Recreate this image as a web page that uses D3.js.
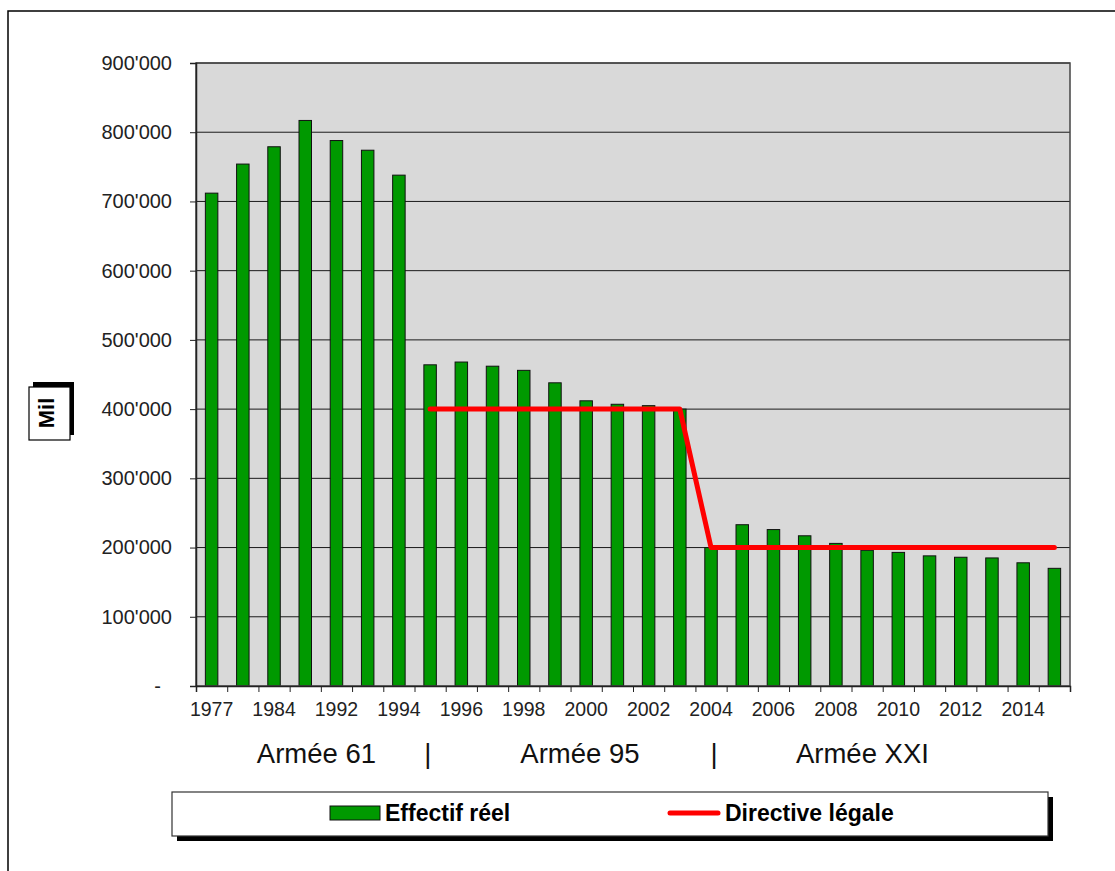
<!DOCTYPE html>
<html>
<head>
<meta charset="utf-8">
<script src="https://cdn.jsdelivr.net/npm/d3@7"></script>
<style>
  body { margin: 0; background: #fff; }
  text { font-family: "Liberation Sans", Arial, sans-serif; }
</style>
</head>
<body>
<svg id="chart" width="1115" height="871"></svg>
<script>
// categories (three early years are unlabeled in the source, guessed)
const years = ['1977', '1980', '1984', '1988', '1992', '1993', '1994', '1995', '1996', '1997',
  '1998', '1999', '2000', '2001', '2002', '2003', '2004', '2005', '2006', '2007',
  '2008', '2009', '2010', '2011', '2012', '2013', '2014', '2015'];
const shownYears = ['1977', '1984', '1992', '1994', '1996', '1998', '2000', '2002', '2004',
  '2006', '2008', '2010', '2012', '2014'];

// Effectif réel
const effectif = [712000, 754000, 779000, 817000, 788000, 774000, 738000, 464000, 468000, 462000,
  456000, 438000, 412000, 407000, 405000, 400000, 200000, 233000, 226000, 217000,
  206000, 196000, 193000, 188000, 186000, 185000, 178000, 170000];

// Directive légale (null = no directive)
const directive = [null, null, null, null, null, null, null, 400000, 400000, 400000,
  400000, 400000, 400000, 400000, 400000, 400000, 200000, 200000, 200000, 200000,
  200000, 200000, 200000, 200000, 200000, 200000, 200000, 200000];

const yTicks = [0, 100000, 200000, 300000, 400000, 500000, 600000, 700000, 800000, 900000];
const armies = ['Armée 61', '|', 'Armée 95', '|', 'Armée XXI'];
const legendLabels = ['Effectif réel', 'Directive légale'];

const plotLeft = 196, plotRight = 1070, plotTop = 63, plotBottom = 686;
const armyPos = [3.86, 7.43, 12.3, 16.6, 21.35]; // in category units

const svg = d3.select('#chart');

// outer frame (top and left edges only)
svg.append('path').attr('d', 'M8,871V11H1115').attr('fill', 'none').attr('stroke', '#000').attr('stroke-width', 1.5);

const x = d3.scaleBand().domain(years).range([plotLeft, plotRight]).paddingInner(0.6).paddingOuter(0.3);
const xIdx = d3.scaleLinear().domain([0, years.length]).range([plotLeft, plotRight]);
const y = d3.scaleLinear().domain([0, 900000]).range([plotBottom, plotTop]);

// plot background
svg.append('rect').attr('x', plotLeft).attr('y', plotTop).attr('width', plotRight - plotLeft).attr('height', plotBottom - plotTop)
  .attr('fill', '#d9d9d9');

// gridlines
svg.append('g').selectAll('line').data(yTicks.slice(1)).enter().append('line')
  .attr('x1', plotLeft).attr('x2', plotRight).attr('y1', d => y(d)).attr('y2', d => y(d))
  .attr('stroke', '#1a1a1a').attr('stroke-width', 1);

// bars
svg.append('g').selectAll('rect').data(effectif).enter().append('rect')
  .attr('x', (d, i) => x(years[i])).attr('width', x.bandwidth())
  .attr('y', d => y(d)).attr('height', d => plotBottom - y(d))
  .attr('fill', '#009900').attr('stroke', '#111').attr('stroke-width', 1);

// plot border
svg.append('rect').attr('x', plotLeft).attr('y', plotTop).attr('width', plotRight - plotLeft).attr('height', plotBottom - plotTop)
  .attr('fill', 'none').attr('stroke', '#444').attr('stroke-width', 1.5);

// directive line
const line = d3.line().defined(d => d[1] != null)
  .x(d => x(d[0]) + x.bandwidth() / 2).y(d => y(d[1]));
svg.append('path').datum(years.map((yr, i) => [yr, directive[i]]))
  .attr('d', line).attr('fill', 'none').attr('stroke', '#ff0000').attr('stroke-width', 5)
  .attr('stroke-linejoin', 'round').attr('stroke-linecap', 'round');

// y axis
const yAxis = d3.axisLeft(y).tickValues(yTicks).tickSize(6).tickPadding(18)
  .tickFormat(d => d === 0 ? '-' : d3.format(',')(d).replace(/,/g, '\''));
const yAxisGroup = svg.append('g').attr('transform', `translate(${plotLeft},0)`).call(yAxis);
yAxisGroup.select('.domain').attr('stroke', '#222').attr('stroke-width', 1.5);
yAxisGroup.selectAll('.tick line').attr('stroke', '#222');
yAxisGroup.selectAll('.tick text').attr('font-size', 20).attr('fill', '#222')
  .attr('font-family', '"Liberation Sans", Arial, sans-serif')
  .attr('dx', d => d === 0 ? -11 : 0);

// x axis: tick marks at category boundaries, labels at centers
const xTickAxis = d3.axisBottom(xIdx).ticks(years.length).tickSize(6).tickFormat('');
const xTickGroup = svg.append('g').attr('transform', `translate(0,${plotBottom})`).call(xTickAxis);
xTickGroup.select('.domain').attr('stroke', '#222').attr('stroke-width', 1.5);
xTickGroup.selectAll('.tick line').attr('stroke', '#222');

const xAxis = d3.axisBottom(x).tickValues(shownYears).tickSize(0).tickPadding(16);
const xAxisGroup = svg.append('g').attr('transform', `translate(0,${plotBottom})`).call(xAxis);
xAxisGroup.select('.domain').remove();
xAxisGroup.selectAll('.tick text').attr('font-size', 19.5).attr('fill', '#222')
  .attr('font-family', '"Liberation Sans", Arial, sans-serif');

// army periods
svg.append('g').selectAll('text').data(armies).enter().append('text')
  .attr('x', (d, i) => xIdx(armyPos[i])).attr('y', 763)
  .attr('text-anchor', 'middle').attr('font-size', 27.5).attr('fill', '#111')
  .text(d => d);

// "Mil" badge
svg.append('rect').attr('x', 33).attr('y', 382).attr('width', 41).attr('height', 53).attr('fill', '#000');
svg.append('rect').attr('x', 29).attr('y', 387).attr('width', 41).attr('height', 53)
  .attr('fill', '#fff').attr('stroke', '#000').attr('stroke-width', 1.2);
svg.append('text').attr('transform', 'translate(54,413) rotate(-90)')
  .attr('text-anchor', 'middle').attr('font-size', 22).attr('font-weight', 'bold').text('Mil');

// legend
const legend = svg.append('g');
legend.append('rect').attr('x', 177).attr('y', 797).attr('width', 876).attr('height', 44).attr('fill', '#000');
legend.append('rect').attr('x', 172).attr('y', 792).attr('width', 876).attr('height', 44)
  .attr('fill', '#fff').attr('stroke', '#333').attr('stroke-width', 1.2);
legend.append('rect').attr('x', 330).attr('y', 806).attr('width', 50).attr('height', 14)
  .attr('fill', '#009900').attr('stroke', '#111');
legend.append('line').attr('x1', 670).attr('x2', 718).attr('y1', 813).attr('y2', 813)
  .attr('stroke', '#ff0000').attr('stroke-width', 5).attr('stroke-linecap', 'round');
legend.selectAll('text.lg').data(legendLabels).enter().append('text').attr('class', 'lg')
  .attr('x', (d, i) => i === 0 ? 385 : 725).attr('y', 821)
  .attr('font-size', 23).attr('font-weight', 'bold').attr('fill', '#000')
  .text(d => d);
</script>
</body>
</html>
